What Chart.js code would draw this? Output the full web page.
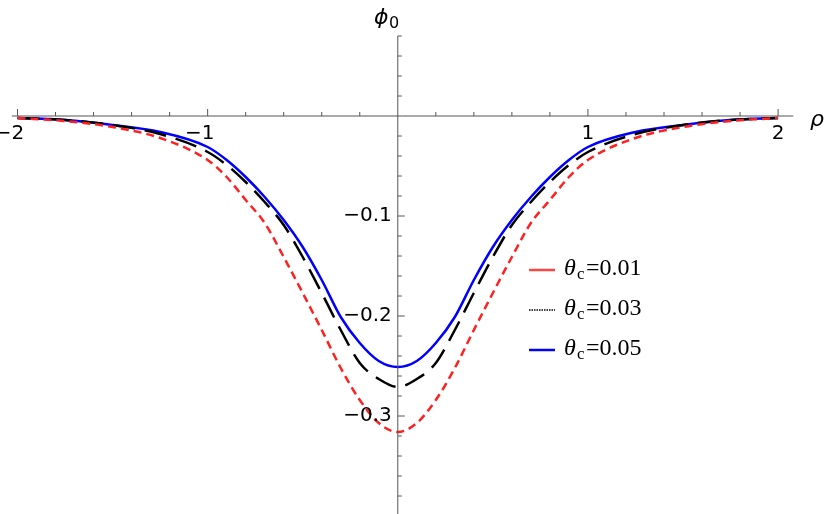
<!DOCTYPE html><html><head><script src="https://cdn.jsdelivr.net/npm/chart.js"></script>
<style>body{margin:0;background:#fff}#w{width:830px;height:514px}</style></head><body><div id="w"><canvas id="c"></canvas></div>
<script>
const rhoHalf=[0,0.1,0.2,0.3,0.4,0.5,0.6,0.7,0.8,0.9,1.0,1.25,1.5,1.75,2.0];
const red=[-0.316,-0.307,-0.284,-0.252,-0.214,-0.177,-0.141,-0.107,-0.084,-0.061,-0.044,-0.022,-0.011,-0.005,-0.002];
const black=[-0.271,-0.263,-0.247,-0.214,-0.177,-0.141,-0.109,-0.086,-0.066,-0.049,-0.036,-0.018,-0.009,-0.004,-0.002];
const blue=[-0.251,-0.245,-0.227,-0.201,-0.164,-0.131,-0.104,-0.081,-0.061,-0.044,-0.031,-0.016,-0.009,-0.004,-0.002];
const labels=["θc=0.01","θc=0.03","θc=0.05"];
const xTicks=[-2,-1,1,2], yTicks=[-0.1,-0.2,-0.3];
function full(v){const p=[];for(let i=v.length-1;i>0;i--)p.push({x:-rhoHalf[i],y:v[i]});for(let i=0;i<v.length;i++)p.push({x:rhoHalf[i],y:v[i]});return p;}
const axes={id:'ax',afterDatasetsDraw(ch){const c=ch.ctx,X=ch.scales.x,Y=ch.scales.y;const x0=X.getPixelForValue(0),y0=Y.getPixelForValue(0);
c.save();c.strokeStyle='#555';c.lineWidth=1;c.beginPath();c.moveTo(X.getPixelForValue(-2.03),y0);c.lineTo(X.getPixelForValue(2.08),y0);c.moveTo(x0,Y.getPixelForValue(0.08));c.lineTo(x0,514);c.stroke();
c.beginPath();for(let i=-10;i<=10;i++){if(i==0)continue;const p=X.getPixelForValue(i*0.2);const L=(i%5==0)?7:4;c.moveTo(p,y0);c.lineTo(p,y0-L);}
for(let i=-19;i<=4;i++){if(i==0)continue;const p=Y.getPixelForValue(i*0.02);const L=(i%5==0)?7:4;c.moveTo(x0,p);c.lineTo(x0+L,p);}c.stroke();
c.fillStyle='#000';c.font='20px "DejaVu Sans"';c.textAlign='center';c.textBaseline='top';
xTicks.forEach(t=>c.fillText(t<0?'−'+(-t):String(t),X.getPixelForValue(t)-(t<0?8:0),y0+8));
c.textAlign='right';c.textBaseline='middle';yTicks.forEach(t=>c.fillText('−'+(-t).toFixed(1),x0-6,Y.getPixelForValue(t)));
c.textAlign='left';c.font='italic 22px "DejaVu Sans"';c.fillText('ρ',810,120);c.fillText('ϕ',374,18);c.font='16px "DejaVu Sans"';c.fillText('0',389,24);
const cols=['#ff4444','#000','#0000ff'];labels.forEach((l,i)=>{const y=270+i*40;c.strokeStyle=cols[i];c.lineWidth=i==1?1.5:2.5;c.setLineDash(i==1?[1.5,1]:[]);c.beginPath();c.moveTo(529,y);c.lineTo(555,y);c.stroke();c.setLineDash([]);
c.fillStyle='#000';c.font='italic 24px "Liberation Serif"';c.fillText('θ',564,y-1);c.font='17px "Liberation Serif"';c.fillText('c',577,y+5);c.font='24px "Liberation Serif"';c.fillText('=0.0'+(2*i+1),586,y-1);});
c.restore();}};
new Chart(document.getElementById('c'),{type:'scatter',data:{datasets:[
{data:full(red),borderColor:'#ff2020',borderDash:[8,5],borderWidth:2.5,showLine:true,pointRadius:0,cubicInterpolationMode:'monotone'},
{data:full(black),borderColor:'#000',borderDash:[22,10],borderWidth:2.5,showLine:true,pointRadius:0,cubicInterpolationMode:'monotone'},
{data:full(blue),borderColor:'#0000ff',borderWidth:2.5,showLine:true,pointRadius:0,cubicInterpolationMode:'monotone'}]},
options:{responsive:true,maintainAspectRatio:false,animation:false,layout:{padding:0},plugins:{legend:{display:false},tooltip:{enabled:false}},
scales:{x:{type:'linear',display:false,min:-2.092,max:2.273},y:{type:'linear',display:false,min:-0.398,max:0.116}}},plugins:[axes]});
</script></body></html>
